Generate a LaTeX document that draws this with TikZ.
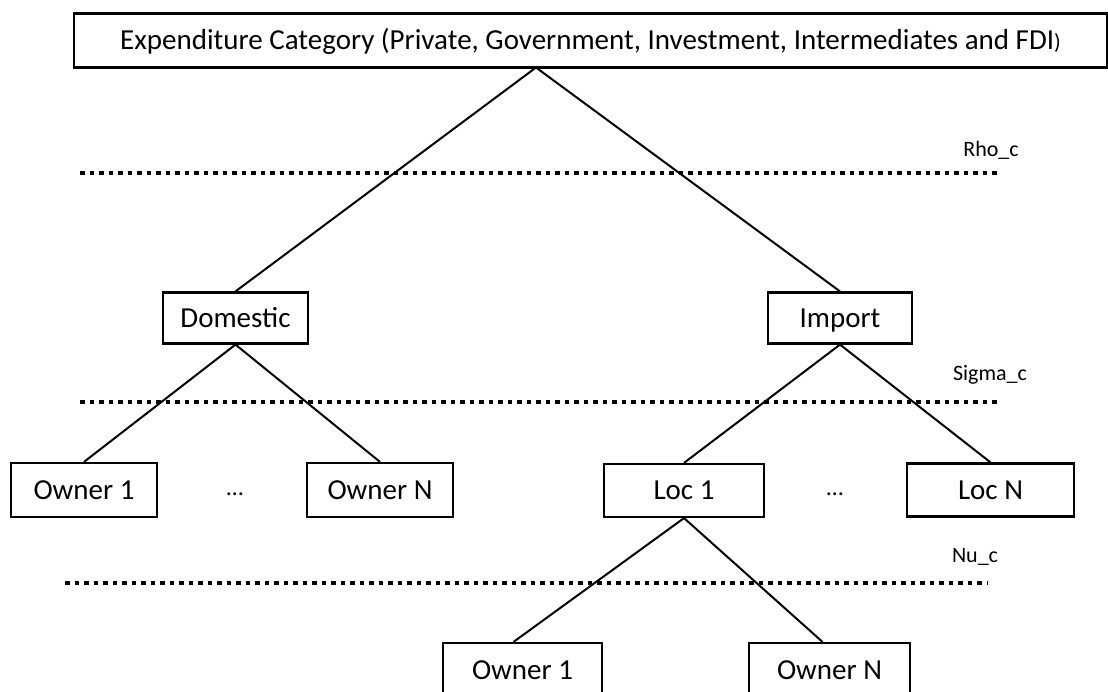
\documentclass[tikz,border=0pt]{standalone}
\usepackage{fontspec}
\setmainfont{Carlito}
\begin{document}
\begin{tikzpicture}[x=1pt,y=-1pt,
  box/.style={draw,line width=2.2pt,rectangle,inner sep=0pt,font=\fontsize{29}{34}\selectfont,text height=18.7pt,text depth=0pt},
  conn/.style={line width=2pt},
  level/.style={line width=4.5pt,dash pattern=on 4.5pt off 5pt},
  lab/.style={font=\fontsize{22}{26}\selectfont},
  dots/.style={font=\fontsize{24}{28}\selectfont}]
\useasboundingbox (0,0) rectangle (1108,692);
\begin{scope}
\clip (0,0) rectangle (1108,692);
\node[box,minimum width=1033pt,minimum height=54pt] (top) at (590.5,40.5)
  {Expenditure Category (Private, Government, Investment, Intermediates and FDI{\fontsize{22}{26}\selectfont)}};
\node[box,minimum width=145pt,minimum height=51pt] (dom) at (235.5,318) {Domestic};
\node[box,minimum width=144pt,minimum height=51pt] (imp) at (840,318) {Import};
\node[box,minimum width=146pt,minimum height=54pt] (o1) at (84,490) {Owner 1};
\node[box,minimum width=146pt,minimum height=54pt] (oN) at (380,490) {Owner N};
\node[box,minimum width=160pt,minimum height=53pt] (l1) at (684,490.5) {Loc 1};
\node[box,minimum width=167pt,minimum height=53pt] (lN) at (990.5,490) {Loc N};
\node[box,minimum width=159pt,minimum height=54pt] (bo1) at (522.5,670) {Owner 1};
\node[box,minimum width=161pt,minimum height=54pt] (boN) at (829.5,670) {Owner N};
\end{scope}
\node[dots] (d1) at (235,494) {…};
\node[dots] (d2) at (835,494) {…};
\coordinate (apex) at (536,67.5);
\coordinate (b1) at ([xshift=-9pt]bo1.north);
\coordinate (bN) at ([xshift=-7pt]boN.north);
\draw[conn] (apex) -- (dom.north);
\draw[conn] (apex) -- (imp.north);
\draw[conn] (dom.south) -- (o1.north);
\draw[conn] (dom.south) -- (oN.north);
\draw[conn] (imp.south) -- (l1.north);
\draw[conn] (imp.south) -- (lN.north);
\draw[conn] (l1.south) -- (b1);
\draw[conn] (l1.south) -- (bN);
\coordinate (r1) at (80,173); \coordinate (r2) at (1000,173);
\coordinate (s1) at (80,402); \coordinate (s2) at (1000,402);
\coordinate (n1) at (65,583); \coordinate (n2) at (988,583);
\draw[level] (r1) -- (r2);
\draw[level] (s1) -- (s2);
\draw[level] (n1) -- (n2);
\node[lab] (rho) at (991,150) {Rho\_c};
\node[lab] (sig) at (990,375) {Sigma\_c};
\node[lab] (nu) at (975,557) {Nu\_c};
\end{tikzpicture}
\end{document}
